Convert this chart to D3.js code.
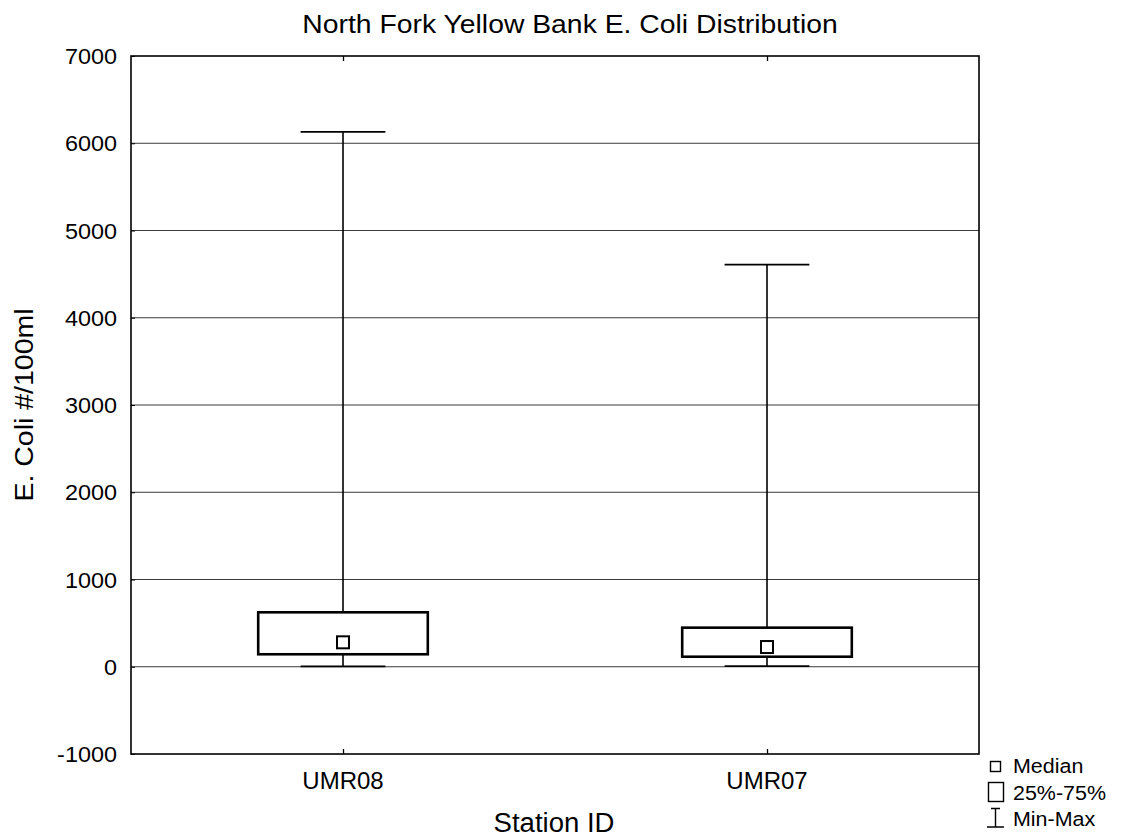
<!DOCTYPE html>
<html>
<head>
<meta charset="utf-8">
<script src="https://cdn.jsdelivr.net/npm/d3@7"></script>
<style>
  html, body { margin: 0; padding: 0; background: #fff; }
  svg { display: block; font-family: "Liberation Sans", Arial, Helvetica, sans-serif; }
</style>
</head>
<body>
<svg id="chart" width="1121" height="837"></svg>
<script>
// Station summary statistics (E. coli, #/100ml)
const stations = ["UMR08", "UMR07"];
const minVals = [5, 8];
const q1Vals = [143, 115];
const medianVals = [280, 226];
const q3Vals = [624, 448];
const maxVals = [6130, 4610];
const yTicks = [-1000, 0, 1000, 2000, 3000, 4000, 5000, 6000, 7000];
const legendItems = ["Median", "25%-75%", "Min-Max"];

const svg = d3.select("#chart");
const W = 1121, H = 837;
const plot = { left: 131, right: 979, top: 56, bottom: 754 };

svg.append("rect").attr("width", W).attr("height", H).attr("fill", "#fff");

const x = d3.scalePoint().domain(stations).range([plot.left, plot.right]).padding(0.5);
const y = d3.scaleLinear().domain([-1000, 7000]).range([plot.bottom, plot.top]);
const step = x.step();

// slightly widened text, as in the original graphics package
function label(g, txt, px, py, size, anchor, stretch, rotate) {
  return g.append("text")
    .attr("transform", `translate(${px},${py})${rotate ? " rotate(" + rotate + ")" : ""} scale(${stretch},1)`)
    .attr("font-size", size)
    .attr("text-anchor", anchor)
    .attr("fill", "#000")
    .text(txt);
}

// horizontal grid lines
svg.append("g")
  .selectAll("line").data(yTicks.filter(d => d > -1000 && d < 7000)).join("line")
  .attr("x1", plot.left).attr("x2", plot.right)
  .attr("y1", d => y(d)).attr("y2", d => y(d))
  .attr("stroke", "#3a3a3a").attr("stroke-width", 1);

// axes with inward ticks
const yAxis = svg.append("g").attr("transform", `translate(${plot.left},0)`)
  .call(d3.axisLeft(y).tickValues(yTicks).tickSize(-4).tickFormat(""));
yAxis.select(".domain").remove();
yAxis.selectAll("line").attr("stroke", "#000");

const xAxisB = svg.append("g").attr("transform", `translate(0,${plot.bottom})`)
  .call(d3.axisBottom(x).tickSize(-5).tickFormat(""));
xAxisB.select(".domain").remove();
xAxisB.selectAll("line").attr("stroke", "#000").attr("stroke-width", 1.3);
const xAxisT = svg.append("g").attr("transform", `translate(0,${plot.top})`)
  .call(d3.axisTop(x).tickSize(-5).tickFormat(""));
xAxisT.select(".domain").remove();
xAxisT.selectAll("line").attr("stroke", "#000").attr("stroke-width", 1.3);

// y tick labels
const yl = svg.append("g");
yTicks.forEach(v => label(yl, String(v), plot.left - 14, y(v) + 8, 21.5, "end", 1.09));

// x tick labels
const xl = svg.append("g");
stations.forEach(s => label(xl, s, x(s), 789, 24, "middle", 1));

// boxes, whiskers and median markers
const data = stations.map((s, i) => ({
  s, min: minVals[i], q1: q1Vals[i], med: medianVals[i], q3: q3Vals[i], max: maxVals[i]
}));
const bw = step * 0.4, cw = step * 0.2, ms = 12;
const g = svg.append("g");
data.forEach(d => {
  const cx = x(d.s);
  g.append("line").attr("x1", cx).attr("x2", cx).attr("y1", y(d.q3)).attr("y2", y(d.max))
    .attr("stroke", "#000").attr("stroke-width", 1.6);
  g.append("line").attr("x1", cx).attr("x2", cx).attr("y1", y(d.min)).attr("y2", y(d.q1))
    .attr("stroke", "#000").attr("stroke-width", 1.6);
  g.append("line").attr("x1", cx - cw / 2).attr("x2", cx + cw / 2).attr("y1", y(d.max)).attr("y2", y(d.max))
    .attr("stroke", "#000").attr("stroke-width", 1.8);
  g.append("line").attr("x1", cx - cw / 2).attr("x2", cx + cw / 2).attr("y1", y(d.min)).attr("y2", y(d.min))
    .attr("stroke", "#000").attr("stroke-width", 1.8);
  g.append("rect").attr("x", cx - bw / 2).attr("width", bw)
    .attr("y", y(d.q3)).attr("height", y(d.q1) - y(d.q3))
    .attr("fill", "#fff").attr("stroke", "#000").attr("stroke-width", 2.6);
  g.append("rect").attr("x", cx - ms / 2).attr("y", y(d.med) - ms / 2)
    .attr("width", ms).attr("height", ms)
    .attr("fill", "#fff").attr("stroke", "#000").attr("stroke-width", 2);
});

// plot frame
svg.append("rect").attr("x", plot.left).attr("y", plot.top)
  .attr("width", plot.right - plot.left).attr("height", plot.bottom - plot.top)
  .attr("fill", "none").attr("stroke", "#000").attr("stroke-width", 1.6);

// titles
const tg = svg.append("g");
label(tg, "North Fork Yellow Bank E. Coli Distribution", 570, 33, 26, "middle", 1.09);
label(tg, "E. Coli #/100ml", 33, 405, 25, "middle", 1.14, -90);
label(tg, "Station ID", 554, 832, 27, "middle", 1.02);

// legend
const lg = svg.append("g");
lg.append("rect").attr("x", 990.5).attr("y", 761.5).attr("width", 10).attr("height", 10)
  .attr("fill", "#fff").attr("stroke", "#000").attr("stroke-width", 1.4);
lg.append("rect").attr("x", 988.5).attr("y", 782.5).attr("width", 15).attr("height", 19)
  .attr("fill", "#fff").attr("stroke", "#000").attr("stroke-width", 1.4);
lg.append("path").attr("d", "M991,808.5H1000M995.5,808.5V827M987,827H1004")
  .attr("fill", "none").attr("stroke", "#000").attr("stroke-width", 1.4);
legendItems.forEach((t, i) => label(lg, t, 1013, 773 + i * 26.5, 19.5, "start", 1.1));
</script>
</body>
</html>
